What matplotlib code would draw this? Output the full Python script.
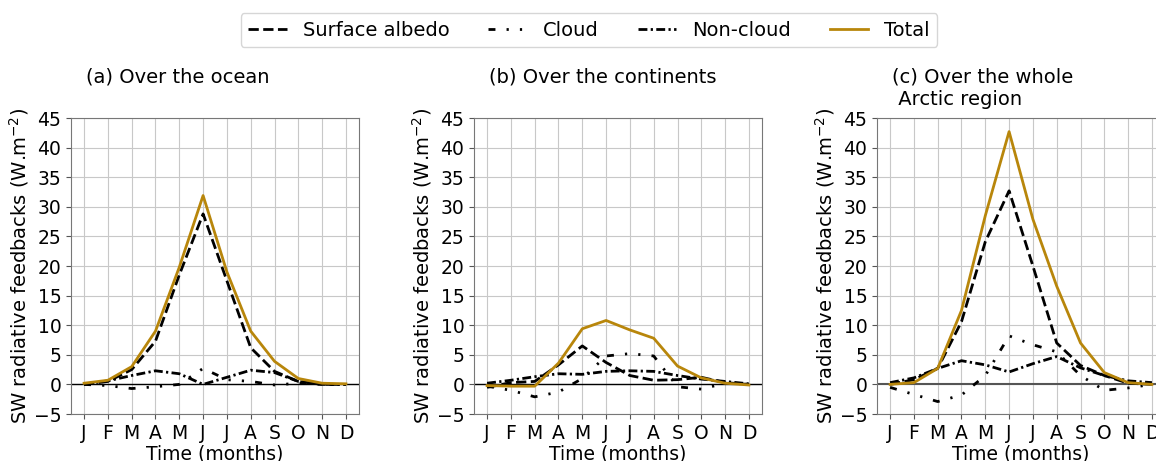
import matplotlib
matplotlib.use("Agg")
import matplotlib.pyplot as plt
import numpy as np

months = ["J", "F", "M", "A", "M", "J", "J", "A", "S", "O", "N", "D"]

# (a) Over the ocean
ocean_albedo = [0.0, 0.5, 2.5, 7.3, 18.5, 28.8, 17.5, 6.2, 2.2, 0.5, 0.0, 0.0]
ocean_cloud = [0.0, -0.2, -0.7, -0.4, 0.0, 2.7, 0.8, 0.5, -0.1, 0.2, 0.0, 0.0]
ocean_noncloud = [0.0, 0.6, 1.5, 2.3, 1.8, 0.0, 1.2, 2.4, 2.0, 0.5, 0.0, 0.0]
ocean_total = [0.2, 0.7, 3.0, 9.0, 19.8, 31.9, 19.0, 9.0, 3.9, 1.0, 0.2, 0.1]

# (b) Over the continents
cont_albedo = [-0.5, 0.3, 0.5, 3.3, 6.5, 3.7, 1.5, 0.7, 0.8, 1.2, 0.3, 0.0]
cont_cloud = [-0.3, -1.0, -2.1, -1.3, 1.0, 4.8, 5.2, 4.8, -0.4, -0.8, 0.2, 0.0]
cont_noncloud = [0.2, 0.7, 1.3, 1.8, 1.7, 2.2, 2.3, 2.2, 1.5, 0.9, 0.5, 0.1]
cont_total = [-0.2, -0.3, -0.3, 3.6, 9.4, 10.8, 9.2, 7.8, 3.1, 1.1, 0.2, -0.1]

# (c) Over the whole Arctic region
arc_albedo = [0.0, 0.8, 2.7, 10.6, 24.1, 32.7, 20.0, 7.0, 3.2, 1.5, 0.2, 0.0]
arc_cloud = [-0.5, -1.7, -2.9, -1.8, 1.5, 8.2, 6.7, 5.5, 1.5, -1.0, -0.6, 0.0]
arc_noncloud = [0.3, 1.1, 2.7, 4.0, 3.3, 2.1, 3.5, 4.7, 2.8, 1.5, 0.6, 0.3]
arc_total = [0.0, 0.3, 2.7, 12.5, 28.5, 42.7, 27.9, 16.6, 7.0, 2.0, 0.3, 0.0]

titles = ["(a) Over the ocean", "(b) Over the continents", "(c) Over the whole\n Arctic region"]
panels = [
    (ocean_albedo, ocean_cloud, ocean_noncloud, ocean_total),
    (cont_albedo, cont_cloud, cont_noncloud, cont_total),
    (arc_albedo, arc_cloud, arc_noncloud, arc_total),
]
series_labels = ["Surface albedo", "Cloud", "Non-cloud", "Total"]

W, H = 1156, 461
fig = plt.figure(figsize=(W / 100, H / 100), dpi=100)

lefts = [71, 474, 877]
axw = 288
top, bottom = 118, 414

gold = "#B8860B"
x = np.arange(12)
handles = None
for i, (ax_left, data, title) in enumerate(zip(lefts, panels, titles)):
    ax = fig.add_axes([ax_left / W, 1 - bottom / H, axw / W, (bottom - top) / H])
    alb, cld, nc, tot = data
    h1, = ax.plot(x, alb, color="k", lw=2, ls=(0, (3.7, 1.6)), label=series_labels[0])
    h2, = ax.plot(x, cld, color="k", lw=2, ls=(0, (2.5, 4, 0.8, 4, 0.8, 4)), label=series_labels[1])
    h3, = ax.plot(x, nc, color="k", lw=2, ls=(0, (3.2, 1.2, 0.8, 1.2)), label=series_labels[2])
    h4, = ax.plot(x, tot, color=gold, lw=2, label=series_labels[3])
    handles = [h1, h2, h3, h4]
    if i == 2:
        ax.axhline(0, color="#555555", lw=1.5, zorder=1)
    else:
        ax.axhline(0, color="k", lw=1.0, zorder=1)
    ax.set_ylim(-5, 45)
    ax.set_yticks(np.arange(-5, 46, 5))
    ax.set_xticks(x)
    ax.set_xticklabels(months)
    ax.tick_params(labelsize=13.5, color="#555555")
    ax.grid(True, color="#c8c8c8", lw=0.8)
    ax.set_axisbelow(True)
    for s in ax.spines.values():
        s.set_color("#777777")
    ax.set_xlabel("Time (months)", fontsize=13.5, labelpad=1)
    ax.set_ylabel("SW radiative feedbacks (W.m$^{-2}$)", fontsize=14, labelpad=2)
    ax.text(0.052, 1.17, title, transform=ax.transAxes, fontsize=14, va="top", ha="left")

fig.legend(handles=handles, labels=series_labels, loc="center", ncol=4,
           bbox_to_anchor=(589 / W, 1 - 30 / H), fontsize=14, frameon=True,
           handlelength=2.0, columnspacing=2.0, borderpad=0.4)

fig.savefig("out.png", dpi=100)
